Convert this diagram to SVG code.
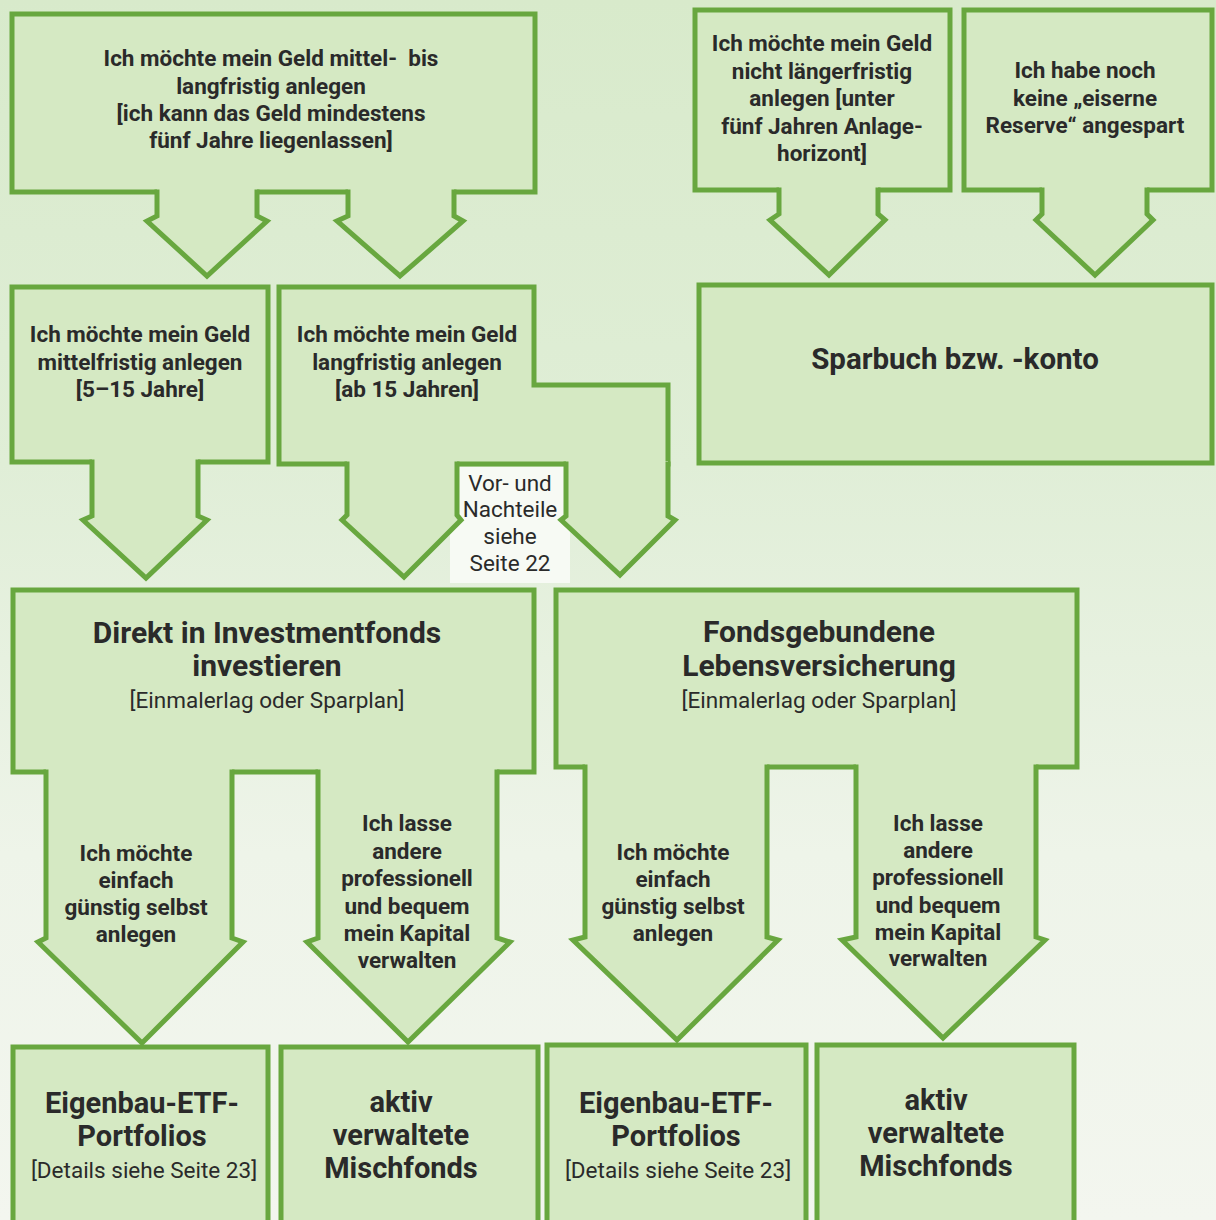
<svg xmlns="http://www.w3.org/2000/svg" width="1216" height="1220" viewBox="0 0 1216 1220">
<defs>
<linearGradient id="bg" x1="0" y1="0" x2="0" y2="1">
<stop offset="0" stop-color="#d8eacb"/>
<stop offset="0.38" stop-color="#e0eed7"/>
<stop offset="0.7" stop-color="#eef4e9"/>
<stop offset="1" stop-color="#f3f6ef"/>
</linearGradient>
<style>
.n{fill:#d5e9c3;stroke:#68a73f;stroke-width:5;stroke-linejoin:miter}
.af{fill:#d5e9c3;stroke:none}
.as{fill:none;stroke:#68a73f;stroke-width:5;stroke-linejoin:miter}
text{font-family:Roboto,"Liberation Sans",sans-serif;fill:#2a2a2a;text-anchor:middle}
.b{font-weight:700;font-size:22.5px}
.t{font-weight:700;font-size:30px}
.s{font-weight:700;font-size:29.5px}
.h{font-weight:700;font-size:29px}
.r{font-weight:400;font-size:22.5px}
</style>
</defs>
<rect x="0" y="0" width="1216" height="1220" fill="url(#bg)"/>
<rect x="450" y="467" width="120" height="116" fill="#f7faf4"/>

<g id="nodes">
<g id="n-mittel-lang">
<rect class="n" x="12" y="14" width="523" height="178"/>
<text class="b" x="271" y="66">Ich möchte mein Geld mittel-&#160; bis</text>
<text class="b" x="271" y="94">langfristig anlegen</text>
<text class="b" x="271" y="121">[ich kann das Geld mindestens</text>
<text class="b" x="271" y="148">fünf Jahre liegenlassen]</text>
</g>
<g id="n-kurz">
<rect class="n" x="695" y="10" width="255" height="180"/>
<text class="b" x="822" y="51">Ich möchte mein Geld</text>
<text class="b" x="822" y="79">nicht längerfristig</text>
<text class="b" x="822" y="106">anlegen [unter</text>
<text class="b" x="822" y="134">fünf Jahren Anlage-</text>
<text class="b" x="822" y="161">horizont]</text>
</g>
<g id="n-reserve">
<rect class="n" x="964" y="10" width="248" height="180"/>
<text class="b" x="1085" y="78">Ich habe noch</text>
<text class="b" x="1085" y="106">keine „eiserne</text>
<text class="b" x="1085" y="133">Reserve“ angespart</text>
</g>
<g id="n-sparbuch">
<rect class="n" x="699" y="285" width="513" height="178"/>
<text class="s" x="955" y="369">Sparbuch bzw. -konto</text>
</g>
<g id="n-mittelfristig">
<rect class="n" x="12" y="287" width="256" height="175"/>
<text class="b" x="140" y="342">Ich möchte mein Geld</text>
<text class="b" x="140" y="370">mittelfristig anlegen</text>
<text class="b" x="140" y="397">[5–15 Jahre]</text>
</g>
<g id="n-langfristig">
<path class="n" d="M279 287 H534 V385 H668 V464 H279 Z"/>
<text class="b" x="407" y="342">Ich möchte mein Geld</text>
<text class="b" x="407" y="370">langfristig anlegen</text>
<text class="b" x="407" y="397">[ab 15 Jahren]</text>
</g>
<g id="n-direkt">
<rect class="n" x="13" y="590" width="521" height="182"/>
<text class="t" x="267" y="643">Direkt in Investmentfonds</text>
<text class="t" x="267" y="676">investieren</text>
<text class="r" x="267" y="708">[Einmalerlag oder Sparplan]</text>
</g>
<g id="n-fonds">
<rect class="n" x="556" y="590" width="521" height="177"/>
<text class="t" x="819" y="642">Fondsgebundene</text>
<text class="t" x="819" y="676">Lebensversicherung</text>
<text class="r" x="819" y="708">[Einmalerlag oder Sparplan]</text>
</g>
<g id="n-etf1">
<path class="n" d="M13 1226 V1047 H268 V1226"/>
<text class="h" x="142" y="1113">Eigenbau-ETF-</text>
<text class="h" x="142" y="1146">Portfolios</text>
<text class="r" x="144" y="1178">[Details siehe Seite 23]</text>
</g>
<g id="n-misch1">
<path class="n" d="M281 1226 V1047 H538 V1226"/>
<text class="h" x="401" y="1112">aktiv</text>
<text class="h" x="401" y="1145">verwaltete</text>
<text class="h" x="401" y="1178">Mischfonds</text>
</g>
<g id="n-etf2">
<path class="n" d="M547 1226 V1045 H806 V1226"/>
<text class="h" x="676" y="1113">Eigenbau-ETF-</text>
<text class="h" x="676" y="1146">Portfolios</text>
<text class="r" x="678" y="1178">[Details siehe Seite 23]</text>
</g>
<g id="n-misch2">
<path class="n" d="M817 1226 V1045 H1074 V1226"/>
<text class="h" x="936" y="1110">aktiv</text>
<text class="h" x="936" y="1143">verwaltete</text>
<text class="h" x="936" y="1176">Mischfonds</text>
</g>
</g>

<g id="connectors">
<path class="af" d="M157 189 H257 V216 L267 221 L207 276 L147 221 L157 216 Z"/>
<path class="as" d="M157 189.5 V216 L147 221 L207 276 L267 221 L257 216 V189.5"/>
<path class="af" d="M348 189 H454 V216 L463 221 L400 276 L337 221 L348 216 Z"/>
<path class="as" d="M348 189.5 V216 L337 221 L400 276 L463 221 L454 216 V189.5"/>
<path class="af" d="M779 187 H878 V214 L885 220 L829 275 L770 220 L779 214 Z"/>
<path class="as" d="M779 187.5 V214 L770 220 L829 275 L885 220 L878 214 V187.5"/>
<path class="af" d="M1042 187 H1147 V214 L1153 220 L1095 275 L1036 220 L1042 214 Z"/>
<path class="as" d="M1042 187.5 V214 L1036 220 L1095 275 L1153 220 L1147 214 V187.5"/>
<path class="af" d="M92 459 H198 V516 L207 520 L146 578 L83 520 L92 516 Z"/>
<path class="as" d="M92 459.5 V516 L83 520 L146 578 L207 520 L198 516 V459.5"/>
<path class="af" d="M347 461 H457 V515 L461 520 L404 577 L342 520 L347 515 Z"/>
<path class="as" d="M347 461.5 V515 L342 520 L404 577 L461 520 L457 515 V461.5"/>
<path class="af" d="M566 461 H668 V516 L675 520 L620 575 L561 520 L566 516 Z"/>
<path class="as" d="M566 461.5 V516 L561 520 L620 575 L675 520 L668 516 V461.5"/>
<path class="af" d="M46 769 H232 V938 L243 942 L142 1043 L38 942 L46 938 Z"/>
<path class="as" d="M46 769.5 V938 L38 942 L142 1043 L243 942 L232 938 V769.5"/>
<path class="af" d="M318 769 H497 V938 L510 942 L408 1042 L307 942 L318 938 Z"/>
<path class="as" d="M318 769.5 V938 L307 942 L408 1042 L510 942 L497 938 V769.5"/>
<path class="af" d="M585 764 H767 V937 L778 940 L677 1040 L573 940 L584 937 Z"/>
<path class="as" d="M585 764.5 V937 L573 940 L677 1040 L778 940 L767 937 V764.5"/>
<path class="af" d="M856 764 H1036 V937 L1045 940 L943 1038 L842 940 L855 937 Z"/>
<path class="as" d="M856 764.5 V937 L842 940 L943 1038 L1045 940 L1036 937 V764.5"/>
<g id="connector-labels">
<text class="r" x="510" y="491">Vor- und</text>
<text class="r" x="510" y="517">Nachteile</text>
<text class="r" x="510" y="544">siehe</text>
<text class="r" x="510" y="571">Seite 22</text>
<text class="b" x="136" y="861">Ich möchte</text>
<text class="b" x="136" y="888">einfach</text>
<text class="b" x="136" y="915">günstig selbst</text>
<text class="b" x="136" y="942">anlegen</text>
<text class="b" x="407" y="831">Ich lasse</text>
<text class="b" x="407" y="859">andere</text>
<text class="b" x="407" y="886">professionell</text>
<text class="b" x="407" y="914">und bequem</text>
<text class="b" x="407" y="941">mein Kapital</text>
<text class="b" x="407" y="968">verwalten</text>
<text class="b" x="673" y="860">Ich möchte</text>
<text class="b" x="673" y="887">einfach</text>
<text class="b" x="673" y="914">günstig selbst</text>
<text class="b" x="673" y="941">anlegen</text>
<text class="b" x="938" y="831">Ich lasse</text>
<text class="b" x="938" y="858">andere</text>
<text class="b" x="938" y="885">professionell</text>
<text class="b" x="938" y="913">und bequem</text>
<text class="b" x="938" y="940">mein Kapital</text>
<text class="b" x="938" y="966">verwalten</text>
</g>
</g>
</svg>
